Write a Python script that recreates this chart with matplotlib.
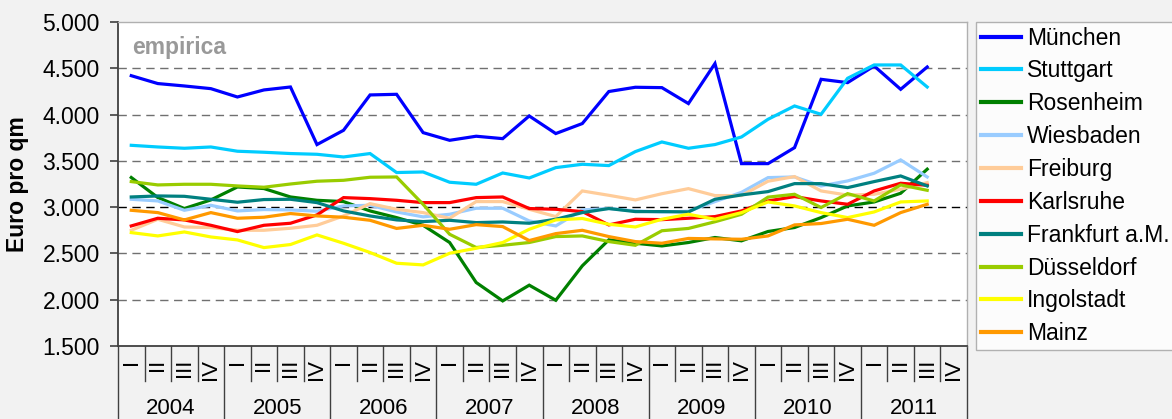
import matplotlib
matplotlib.use("Agg")
import matplotlib.pyplot as plt
import matplotlib.transforms as mtransforms

plt.rcParams["font.family"] = ["Liberation Sans", "DejaVu Sans"]

years = ["2004", "2005", "2006", "2007", "2008", "2009", "2010", "2011"]
quarters = ["I", "II", "III", "IV"]

muenchen = [4420, 4335, 4309, 4280, 4190, 4266, 4298, 3676, 3830, 4212, 4219,
            3805, 3722, 3766, 3740, 3985, 3795, 3903, 4249, 4295, 4291, 4119,
            4551, 3470, 3470, 3643, 4381, 4345, 4525, 4273, 4514]
stuttgart = [3668, 3650, 3636, 3650, 3604, 3593, 3579, 3571, 3542, 3579, 3374,
             3380, 3269, 3247, 3369, 3315, 3427, 3463, 3449, 3600, 3704, 3636,
             3676, 3758, 3949, 4093, 4003, 4392, 4536, 4536, 4298]
rosenheim = [3320, 3104, 2985, 3078, 3218, 3201, 3110, 3074, 3060, 2959, 2887,
             2804, 2618, 2186, 1987, 2157, 1994, 2366, 2647, 2610, 2581, 2618,
             2672, 2636, 2737, 2780, 2887, 3013, 3056, 3150, 3410]
wiesbaden = [3085, 3067, 2966, 3020, 2959, 2974, 2970, 2956, 3013, 3020, 2948,
             2895, 2923, 2988, 2988, 2851, 2797, 2970, 2985, 2959, 2948, 2955,
             3060, 3160, 3319, 3326, 3229, 3283, 3366, 3510, 3326]
freiburg = [2750, 2869, 2786, 2779, 2750, 2750, 2772, 2804, 2905, 3038, 2977,
            2941, 2880, 3060, 3060, 2977, 2898, 3175, 3128, 3078, 3145, 3200,
            3125, 3125, 3280, 3330, 3175, 3130, 3139, 3193, 3265]
karlsruhe = [2797, 2880, 2862, 2804, 2736, 2804, 2826, 2916, 3103, 3092, 3074,
             3049, 3049, 3103, 3110, 2985, 2977, 2952, 2808, 2869, 2865, 2880,
             2898, 2959, 3067, 3114, 3067, 3031, 3175, 3258, 3236]
frankfurt = [3110, 3121, 3117, 3085, 3053, 3082, 3085, 3049, 2959, 2905, 2862,
             2844, 2858, 2833, 2840, 2826, 2869, 2941, 2985, 2952, 2952, 2948,
             3085, 3132, 3168, 3254, 3254, 3211, 3276, 3337, 3229]
duesseldorf = [3276, 3240, 3247, 3247, 3229, 3215, 3250, 3280, 3290, 3323, 3326,
               3030, 2707, 2564, 2588, 2618, 2682, 2689, 2628, 2588, 2745, 2770,
               2842, 2923, 3108, 3139, 2996, 3146, 3067, 3240, 3182]
ingolstadt = [2725, 2689, 2732, 2678, 2646, 2563, 2596, 2700, 2610, 2510, 2394,
              2376, 2502, 2556, 2618, 2761, 2862, 2877, 2815, 2786, 2869, 2923,
              2869, 2941, 3056, 3013, 2941, 2887, 2948, 3056, 3067]
mainz = [2966, 2941, 2862, 2941, 2880, 2891, 2931, 2905, 2891, 2858, 2770,
         2804, 2761, 2811, 2790, 2639, 2714, 2750, 2682, 2628, 2610, 2662,
         2657, 2653, 2689, 2808, 2823, 2869, 2804, 2941, 3031]

serien = [
    ("München", muenchen, "#0000FF"),
    ("Stuttgart", stuttgart, "#00CCFF"),
    ("Rosenheim", rosenheim, "#008000"),
    ("Wiesbaden", wiesbaden, "#99CCFF"),
    ("Freiburg", freiburg, "#FFCC99"),
    ("Karlsruhe", karlsruhe, "#FF0000"),
    ("Frankfurt a.M.", frankfurt, "#008080"),
    ("Düsseldorf", duesseldorf, "#99CC00"),
    ("Ingolstadt", ingolstadt, "#FFFF00"),
    ("Mainz", mainz, "#FF9900"),
]

W, H = 1172, 419
fig = plt.figure(figsize=(W / 100, H / 100), dpi=100, facecolor="#F2F2F2")
ax = fig.add_axes([118 / W, (H - 346) / H, (967 - 118) / W, 324 / H])
ax.set_facecolor("white")

for name, vals, col in serien:
    ax.plot(range(len(vals)), vals, color=col, lw=2.3, label=name,
            solid_joinstyle="miter")

n_cat = len(years) * len(quarters)
ax.set_xlim(-0.5, n_cat - 0.5)
ax.set_ylim(1500, 5000)
ax.set_yticks(range(1500, 5001, 500))
ax.set_yticklabels([f"{v:,}".replace(",", ".") for v in range(1500, 5001, 500)],
                   fontsize=16.5)
ax.tick_params(axis="y", direction="out", length=6, width=1.2, color="#404040",
               pad=7)
ax.set_xticks([])

# Gitterlinien
for v in range(2000, 5000, 500):
    ax.axhline(v, color="#000000" if v == 3000 else "#707070", lw=1,
               ls=(0, (6, 4)), zorder=0.5)

for s in ["top", "right"]:
    ax.spines[s].set_color("#B0B0B0")
    ax.spines[s].set_linewidth(1)
for s in ["left", "bottom"]:
    ax.spines[s].set_color("#404040")
    ax.spines[s].set_linewidth(1.3)

# Quartals- und Jahresbeschriftung unter der Achse
trans = mtransforms.blended_transform_factory(ax.transData, ax.transAxes)
q_bottom = -35 / 324
y_bottom = -73 / 324
for k in range(n_cat + 1):
    is_year = k % 4 == 0
    ax.plot([k - 0.5, k - 0.5], [0, y_bottom if is_year else q_bottom],
            transform=trans, color="#404040", lw=1, clip_on=False)
for k in range(n_cat):
    ax.text(k, -13 / 324, quarters[k % 4], transform=trans, rotation=90,
            ha="center", va="top", fontsize=16)
for j, yr in enumerate(years):
    ax.text(j * 4 + 1.5, -62 / 324, yr, transform=trans, ha="center",
            va="center", fontsize=16)

ax.text(0.017, 0.92, "empirica", transform=ax.transAxes, fontsize=16.5,
        fontweight="bold", color="#999999", va="center", ha="left")

fig.text(18 / W, (H - 184) / H, "Euro pro qm", rotation=90,
         fontsize=16.5, fontweight="bold", ha="center", va="center")

leg = ax.legend(loc="upper left", bbox_to_anchor=(976 / W, (H - 22) / H),
                bbox_transform=fig.transFigure, fontsize=16.5, frameon=True,
                fancybox=False, edgecolor="#A0A0A0", borderpad=0.2,
                labelspacing=0.43, handlelength=1.75, handletextpad=0.28,
                borderaxespad=0)
leg.get_frame().set_linewidth(1)
for line in leg.get_lines():
    line.set_linewidth(3)

fig.savefig("out.png", dpi=100, facecolor=fig.get_facecolor())
